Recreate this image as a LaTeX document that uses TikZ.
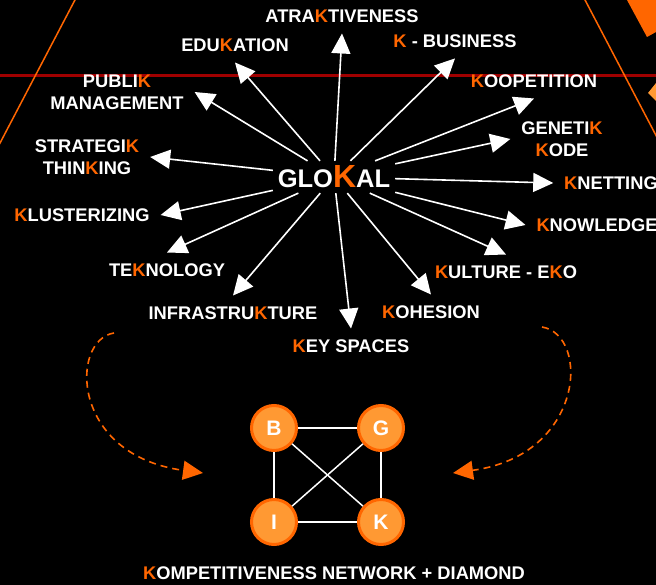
\documentclass[tikz,border=0pt]{standalone}
\usepackage{fontspec}
\setmainfont{Liberation Sans}
\usepackage{tikz}
\usetikzlibrary{arrows.meta}
\definecolor{korange}{HTML}{FF6600}
\definecolor{lorange}{HTML}{FF9933}
\definecolor{dred}{HTML}{A00000}
\newcommand{\kay}{\textcolor{korange}{K}}
\tikzset{lbl/.style = {inner sep=0pt,outer sep=11pt,text=white,align=center,
                       font=\bfseries\fontsize{18.3}{22}\selectfont},
         arr/.style = {white,line width=1.6pt,-{Triangle[length=20pt,width=19pt]}},
         ball/.style = {circle,fill=lorange,draw=korange,line width=3pt,minimum size=45pt,
                        inner sep=0pt,text=white,font=\bfseries\fontsize{21}{21}\selectfont},
         wire/.style = {white,line width=1.5pt},
         curvy/.style = {korange,line width=1.6pt,dash pattern=on 7pt off 5pt,
                         -{Triangle[length=20pt,width=19pt]}}}

\begin{document}
\begin{tikzpicture}[x=1pt,y=-1pt]
                    \useasboundingbox (0,0) rectangle (656,585);
                    \clip (0,0) rectangle (656,585);
                    \fill[black] (0,0) rectangle (656,585);
                    \draw[dred,line width=3pt] (0,76) -- (656,76);
                    \draw[korange,line width=1.5pt] (80.2,-10) -- (-5.2,153);
                    \draw[korange,line width=1.5pt] (579.8,-10) -- (661,145);
                    \fill[korange] (627,0) -- (647,37) -- (656,32) -- (656,0) -- cycle;
                    \fill[lorange] (648,93) -- (656,83) -- (656,101) -- cycle;
                    \node[lbl,inner sep=5pt,outer sep=0pt,font=\bfseries\fontsize{25.5}{25.5}\selectfont]
                        (glokal) at (334,177) {GLO{\fontsize{32}{32}\selectfont\kay}AL};
                    \node[lbl] (atr)  at (342,16)  {ATRA\kay TIVENESS};
                    \node[lbl] (edu)  at (235,45)  {EDU\kay ATION};
                    \node[lbl] (bus)  at (455,41)  {\kay\ - BUSINESS};
                    \node[lbl] (pub)  at (117,92)  {PUBLI\kay\\MANAGEMENT};
                    \node[lbl] (koo)  at (534,81)  {\kay OOPETITION};
                    \node[lbl] (gen)  at (562,139) {GENETI\kay\\\kay ODE};
                    \node[lbl] (str)  at (87,157)  {STRATEGI\kay\\THIN\kay ING};
                    \node[lbl] (knet) at (611,183) {\kay NETTING};
                    \node[lbl] (know) at (597,225) {\kay NOWLEDGE};
                    \node[lbl] (klus) at (82,215)  {\kay LUSTERIZING};
                    \node[lbl] (tek)  at (167,270) {TE\kay NOLOGY};
                    \node[lbl] (inf)  at (233,313) {INFRASTRU\kay TURE};
                    \node[lbl] (key)  at (351,346) {\kay EY SPACES};
                    \node[lbl] (koh)  at (431,312) {\kay OHESION};
                    \node[lbl] (kul)  at (506,272) {\kay ULTURE - E\kay O};
                    \node[lbl] (net)  at (334,573) {\kay OMPETITIVENESS NETWORK + DIAMOND};
                    \foreach \n/\a in {atr/south,edu/south,bus/south,pub/east,koo/south,
                                       str/east,gen/west,knet/west,klus/east,know/west,
                                       tek/north,inf/north,key/north,koh/north,kul/north}
                        \draw[arr] (glokal) -- (\n.\a);
                    \node[ball] (b) at (274,428) {B};
                    \node[ball] (g) at (381,428) {G};
                    \node[ball] (i) at (274,522) {I};
                    \node[ball] (k) at (381,522) {K};
                    \foreach \s/\t in {b/g,b/i,g/k,i/k,b/k,g/i}
                        \draw[wire] (\s) -- (\t);
                    \coordinate (l0) at (114,333);
                    \coordinate (l1) at (203,473);
                    \coordinate (r0) at (542,327);
                    \coordinate (r1) at (453,473);
                    \draw[curvy] (l0) .. controls (70,340) and (70,455) .. (l1);
                    \draw[curvy] (r0) .. controls (590,335) and (585,455) .. (r1);
                \end{tikzpicture}
\end{document}
